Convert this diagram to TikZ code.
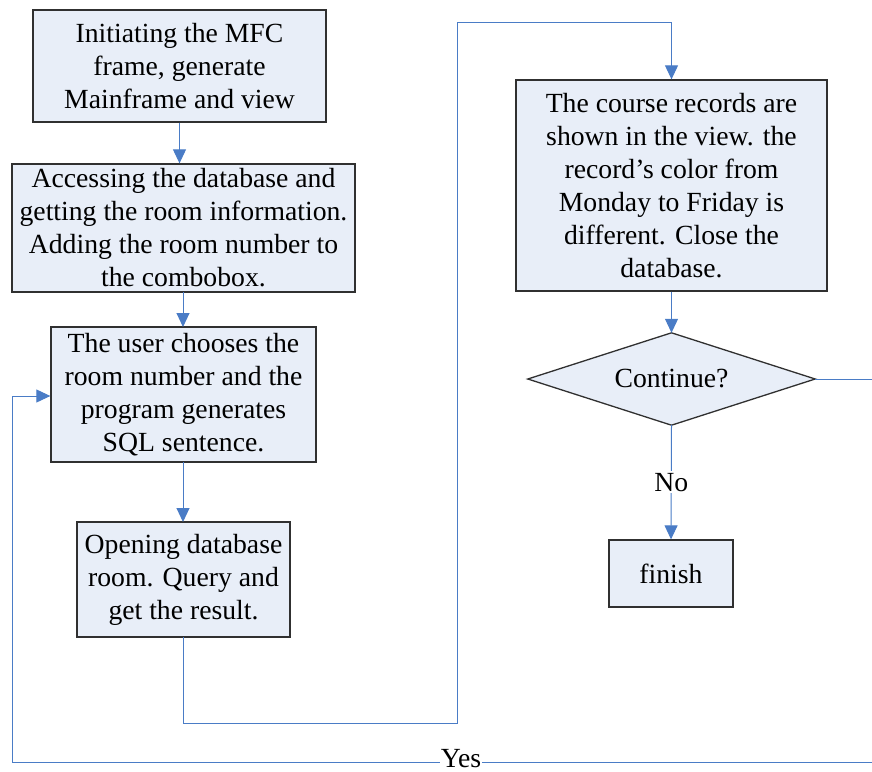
\documentclass[tikz,border=0pt]{standalone}
\usepackage{fontspec}
\setmainfont{Liberation Serif}
\usetikzlibrary{arrows.meta}
\definecolor{boxfill}{HTML}{E8EEF8}
\definecolor{boxline}{HTML}{303030}
\definecolor{conn}{HTML}{4A7CC6}
\tikzset{
  flowbox/.style={draw=boxline, fill=boxfill, line width=1.3pt, align=center, inner sep=0pt,
    font=\fontsize{27.7}{33}\selectfont},
  conline/.style={draw=conn, line width=1pt},
  arr/.style={conline, -{Triangle[width=13pt,length=14pt]}},
  lbl/.style={font=\fontsize{27.7}{33}\selectfont, fill=white, inner sep=2pt}
}
\begin{document}
\begin{tikzpicture}[x=1pt,y=-1pt]
\useasboundingbox (0,0) rectangle (872,771);
\node[flowbox, minimum width=293, minimum height=112] (b1) at (179.5,66)
  {Initiating the MFC\\frame, generate\\Mainframe and view};
\node[flowbox, minimum width=343, minimum height=128] (b2) at (183.5,228)
  {Accessing the database and\\getting the room information.\\Adding the room number to\\the combobox.};
\node[flowbox, minimum width=265, minimum height=135] (b3) at (183.5,394.5)
  {The user chooses the\\room number and the\\program generates\\SQL sentence.};
\node[flowbox, minimum width=213, minimum height=115] (b4) at (183.5,579.5)
  {Opening database\\room. Query and\\get the result.};
\node[flowbox, minimum width=311, minimum height=211] (b5) at (671.5,185.5)
  {The course records are\\shown in the view. the\\record’s color from\\Monday to Friday is\\different. Close the\\database.};
\node[minimum width=287, minimum height=92, inner sep=0pt] (dia) at (671.5,379) {};
\draw[draw=boxline, fill=boxfill, line width=1.3pt] (dia.north) -- (dia.east) -- (dia.south) -- (dia.west) -- cycle;
\node[font=\fontsize{27.7}{33}\selectfont] (cont) at (dia.center) {Continue?};
\node[flowbox, minimum width=124, minimum height=67] (fin) at (671,573.5) {finish};

\coordinate (a2) at (183,292);
\coordinate (a3) at (183,327);
\coordinate (a4) at (183,462);
\coordinate (a5) at (183,522);
\coordinate (a6) at (183,637);
\coordinate (c1) at (183,723);
\coordinate (c2) at (457,723);
\coordinate (c3) at (457,22);
\coordinate (c4) at (671.5,22);
\coordinate (y1) at (900,379);
\coordinate (y2) at (900,762);
\coordinate (y3) at (12,762);
\coordinate (y4) at (12,396);

\draw[arr] (b1.south) -- (b1.south |- b2.north);
\draw[arr] (a2) -- (a3);
\draw[arr] (a4) -- (a5);
\draw[conline] (a6) -- (c1) -- (c2) -- (c3) -- (c4);
\draw[arr] (c4) -- (b5.north);
\draw[arr] (b5.south) -- (dia.north);
\draw[arr] (dia.south) -- node[lbl] {No} (fin.north);
\draw[conline] (dia.east) -- (y1) -- (y2) -- (y3) -- (y4);
\draw[arr] (y4) -- (b3.west |- y4);
\node[lbl, inner sep=0.5pt, text depth=0pt, anchor=base] (yes) at (461,767) {Yes};
\end{tikzpicture}
\end{document}
